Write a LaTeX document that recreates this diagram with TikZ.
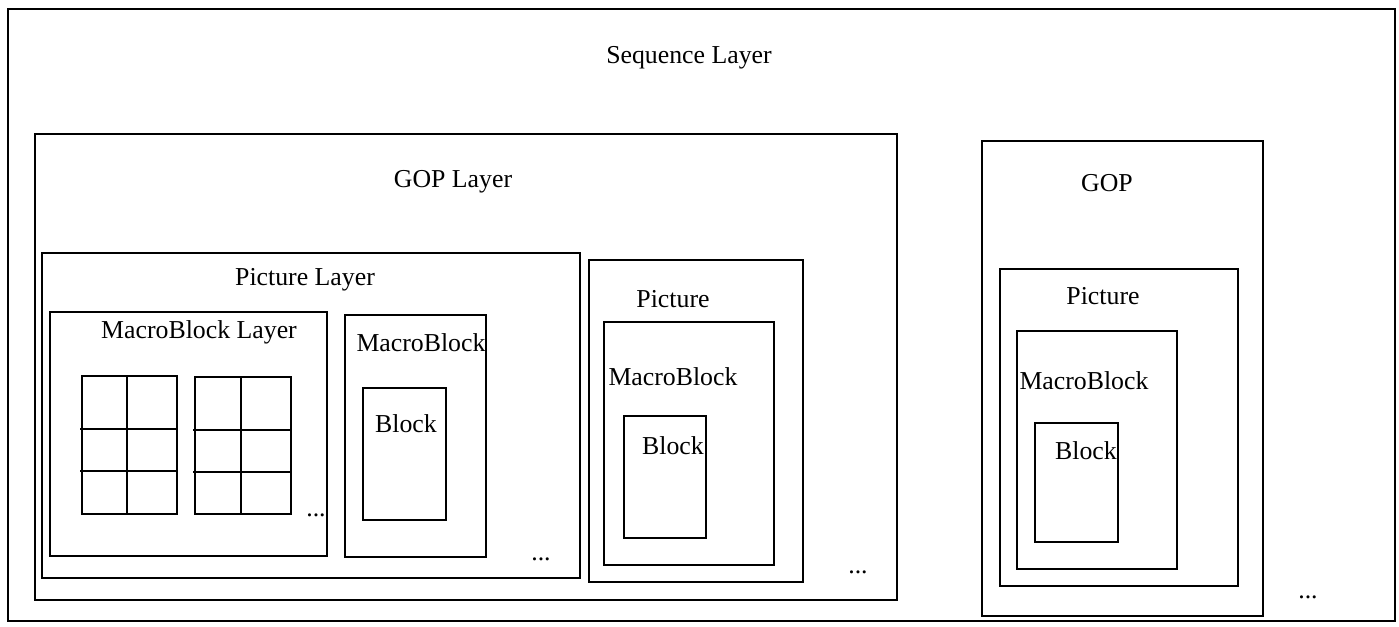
\documentclass[tikz,border=0pt]{standalone}
\usepackage{fontspec}
\setmainfont{Liberation Serif}
\tikzset{
  frame/.style={draw=black, line width=1.3pt},
  gridline/.style={draw=black, line width=1.3pt},
  label/.style={anchor=base, inner sep=0pt, font=\fontsize{12.9}{15}\selectfont},
}
\begin{document}
\begin{tikzpicture}[x=0.5pt, y=-0.5pt]
\useasboundingbox (0,0) rectangle (1399,627);

% nested layer frames
\draw[frame] (8,9) rectangle (1395,621);      % sequence
\draw[frame] (35,134) rectangle (897,600);    % GOP layer
\draw[frame] (982,141) rectangle (1263,616);  % second GOP
\draw[frame] (42,253) rectangle (580,578);    % picture layer
\draw[frame] (50,312) rectangle (327,556);    % macroblock layer
\draw[frame] (345,315) rectangle (486,557);   % macroblock
\draw[frame] (363,388) rectangle (446,520);   % block
\draw[frame] (589,260) rectangle (803,582);   % picture
\draw[frame] (604,322) rectangle (774,565);   % macroblock
\draw[frame] (624,416) rectangle (706,538);   % block
\draw[frame] (1000,269) rectangle (1238,586); % picture
\draw[frame] (1017,331) rectangle (1177,569); % macroblock
\draw[frame] (1035,423) rectangle (1118,542); % block

% 2x3 block grids inside the macroblock layer
\draw[gridline] (82,376) rectangle (177,514);
\draw[gridline] (127,376) -- (127,514);
\draw[gridline] (80,429) -- (177,429);
\draw[gridline] (80,471) -- (177,471);
\draw[gridline] (195,377) rectangle (291,514);
\draw[gridline] (241,377) -- (241,514);
\draw[gridline] (193,430) -- (291,430);
\draw[gridline] (193,472) -- (291,472);

% labels
\node[label] (seq)   at (689,63)  {Sequence Layer};
\node[label] (gopl)  at (453,187) {GOP Layer};
\node[label] (gop2)  at (1107,191) {GOP};
\node[label] (picl)  at (305,285) {Picture Layer};
\node[label] (mbl)   at (199,338) {MacroBlock Layer};
\node[label] (mb1)   at (421,351) {MacroBlock};
\node[label] (blk1)  at (406,432) {Block};
\node[label] (pic2)  at (673,307) {Picture};
\node[label] (mb2)   at (673,385) {MacroBlock};
\node[label] (blk2)  at (673,454) {Block};
\node[label] (pic3)  at (1103,304) {Picture};
\node[label] (mb3)   at (1084,389) {MacroBlock};
\node[label] (blk3)  at (1086,459) {Block};

% continuation marks
\node[label] (d1) at (316,516) {...};
\node[label] (d2) at (541,560) {...};
\node[label] (d3) at (858,573) {...};
\node[label] (d4) at (1308,598) {...};
\end{tikzpicture}
\end{document}
